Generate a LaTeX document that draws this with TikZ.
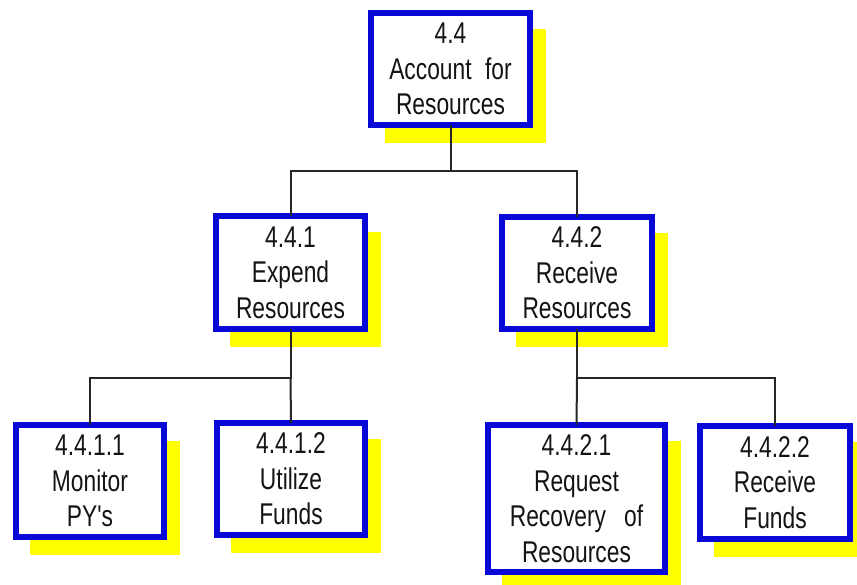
\documentclass[tikz,border=0pt]{standalone}
\usepackage{fontspec}
\newfontfamily\boxfont[FakeStretch=0.76]{Liberation Sans}
\usetikzlibrary{backgrounds,calc}
\definecolor{boxblue}{RGB}{8,8,215}
\definecolor{shadowyellow}{RGB}{255,255,0}
% yellow drop shadow behind a named box
\newcommand\wbsshadow[1]{%
  \fill[shadowyellow] ($(#1.north west)+(14,16)$) rectangle ($(#1.south east)+(16,18)$);}
\begin{document}
\begin{tikzpicture}[x=1pt,y=-1pt,
  wbs/.style={rectangle, draw=boxblue, line width=6pt, fill=white,
    inner sep=0pt, outer sep=0pt, align=center, text=black!92,
    font=\boxfont\fontsize{30}{35.5}\selectfont},
  conn/.style={draw=black!85, line width=2pt}]
\useasboundingbox (0,0) rectangle (857,585);
\clip (0,0) rectangle (857,585);

% boxes
\node[wbs, minimum width=159pt, minimum height=112pt] (n44) at (450.5,69)
  {4.4\\Account\hspace{0.45em}for\\Resources};
\node[wbs, minimum width=149pt, minimum height=113pt] (n441) at (290.5,272.5)
  {4.4.1\\Expend\\Resources};
\node[wbs, minimum width=150pt, minimum height=112pt] (n442) at (577,273)
  {4.4.2\\Receive\\Resources};
\node[wbs, minimum width=148pt, minimum height=112pt] (n4411) at (90,481)
  {4.4.1.1\\Monitor\\PY's};
\node[wbs, minimum width=148pt, minimum height=112pt] (n4412) at (291,479)
  {4.4.1.2\\Utilize\\Funds};
\node[wbs, minimum width=177pt, minimum height=147pt] (n4421) at (576.5,498.5)
  {4.4.2.1\\Request\\Recovery\hspace{0.6em}of\\Resources};
\node[wbs, minimum width=150pt, minimum height=113pt] (n4422) at (775,482.5)
  {4.4.2.2\\Receive\\Funds};

% page background and shadows
\begin{pgfonlayer}{background}
  \fill[white] (0,0) rectangle (857,585);
  \wbsshadow{n44}
  \wbsshadow{n441}
  \wbsshadow{n442}
  \wbsshadow{n4411}
  \wbsshadow{n4412}
  \wbsshadow{n4421}
  \wbsshadow{n4422}
\end{pgfonlayer}

% connector junction levels
\coordinate (j1) at (0,171);
\coordinate (j2) at (0,378);

\draw[conn] (n44.south) -- (n44.south |- j1) -| (n441.north);
\draw[conn] (n44.south |- j1) -| (n442.north);
\draw[conn] (n441.south) -- (n441.south |- j2) -| (n4411.north);
\draw[conn] (n441.south |- j2) -- (n4412.north);
\draw[conn] (n442.south) -- (n442.south |- j2) -| (n4422.north);
\draw[conn] (n442.south |- j2) -- (n4421.north);
\end{tikzpicture}
\end{document}
